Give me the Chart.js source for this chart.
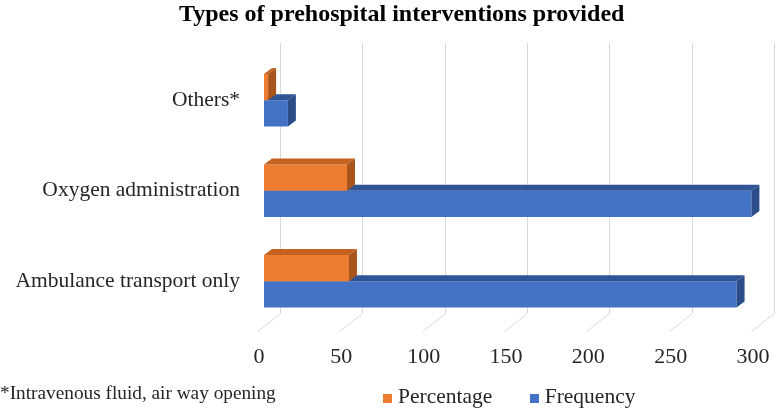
<!DOCTYPE html>
<html>
<head>
<meta charset="utf-8">
<script src="https://cdn.jsdelivr.net/npm/chart.js@4/dist/chart.umd.min.js"></script>
<style>
  html, body { margin: 0; padding: 0; background: #fff; }
  #wrap { position: relative; width: 778px; height: 408px; }
  #title { position: absolute; left: 179px; top: 1px; font: bold 24px "Liberation Serif", serif; line-height: 24px; color: #000; white-space: nowrap; }
  #note { position: absolute; left: 0; top: 382px; font: 19.3px "Liberation Serif", serif; color: #262626; }
  #legend { position: absolute; left: 383px; top: 384px; font: 21.5px "Liberation Serif", serif; color: #262626; white-space: nowrap; }
  #legend span.box { display: inline-block; width: 9px; height: 9px; margin-right: 6px; }
  #legend span.item { margin-right: 32px; }
</style>
</head>
<body>
<div id="wrap">
  <canvas id="barChart" width="778" height="408"></canvas>
  <div id="title">Types of prehospital interventions provided</div>
  <div id="note">*Intravenous fluid, air way opening</div>
  <div id="legend">
    <span class="item"><span class="box" style="background:#ED7D31"></span>Percentage</span>
    <span class="item"><span class="box" style="background:#4472C4"></span>Frequency</span>
  </div>
</div>
<script>
// Data (top to bottom as shown)
const categories = ['Others*', 'Oxygen administration', 'Ambulance transport only'];
const percentage = [2.5, 50.4, 51.6];
const frequency = [14.5, 296, 287];
const xTicks = [0, 50, 100, 150, 200, 250, 300];

// 3D faces colours per dataset
const faceColors = [
  { top: '#C4621F', side: '#A8541B' },  // Percentage
  { top: '#2F5597', side: '#2B4D89' }   // Frequency
];

const DX = 8, DY = 6;  // depth of a bar

// back wall gridlines + floor diagonals, then top/side faces of each bar
const wallPlugin = {
  id: 'wall3d',
  beforeDatasetsDraw(chart) {
    const { ctx, chartArea, scales } = chart;
    ctx.save();
    ctx.strokeStyle = '#d9d9d9';
    ctx.lineWidth = 1;
    xTicks.forEach(v => {
      const px = Math.round(scales.x.getPixelForValue(v)) + 0.5;
      ctx.beginPath();
      ctx.moveTo(px + 16, chartArea.top - 12);
      ctx.lineTo(px + 16, chartArea.bottom - 13);
      ctx.lineTo(px - 7, chartArea.bottom + 5);
      ctx.stroke();
    });
    ctx.restore();
  },
  afterDatasetDraw(chart, args) {
    const { ctx } = chart;
    const c = faceColors[args.index];
    ctx.save();
    args.meta.data.forEach(bar => {
      const left = bar.base, right = bar.x;
      const top = bar.y - bar.height / 2, bottom = bar.y + bar.height / 2;
      ctx.fillStyle = c.top;
      ctx.beginPath();
      ctx.moveTo(left, top);
      ctx.lineTo(left + DX, top - DY);
      ctx.lineTo(right + DX, top - DY);
      ctx.lineTo(right, top);
      ctx.closePath();
      ctx.fill();
      ctx.fillStyle = c.side;
      ctx.beginPath();
      ctx.moveTo(right, top);
      ctx.lineTo(right + DX, top - DY);
      ctx.lineTo(right + DX, bottom - DY);
      ctx.lineTo(right, bottom);
      ctx.closePath();
      ctx.fill();
    });
    ctx.restore();
  }
};

const ctx = document.getElementById('barChart').getContext('2d');
new Chart(ctx, {
  type: 'bar',
  data: {
    labels: categories,
    datasets: [
      {
        label: 'Percentage',
        data: percentage,
        backgroundColor: '#ED7D31',
        borderWidth: 0
      },
      {
        label: 'Frequency',
        data: frequency,
        backgroundColor: '#4472C4',
        borderWidth: 0
      }
    ]
  },
  options: {
    indexAxis: 'y',
    responsive: false,
    animation: false,
    categoryPercentage: 0.58,
    barPercentage: 1.0,
    layout: {
      padding: { left: 14, right: 20, top: 55, bottom: 21 }
    },
    plugins: {
      legend: { display: false },
      tooltip: { enabled: false },
      title: { display: false }
    },
    scales: {
      x: {
        min: 0,
        max: 300,
        grid: { display: false, drawTicks: false },
        border: { display: false },
        afterFit(scale) { scale.paddingRight = 0; scale.paddingLeft = 0; },
        ticks: {
          stepSize: 50,
          padding: 17,
          labelOffset: -5,
          maxRotation: 0,
          color: '#262626',
          font: { family: 'Liberation Serif', size: 22 }
        }
      },
      y: {
        grid: { display: false, drawTicks: false },
        border: { display: false },
        afterFit(scale) { scale.width = 250; },
        ticks: {
          padding: 24,
          color: '#262626',
          font: { family: 'Liberation Serif', size: 21.5 }
        }
      }
    }
  },
  plugins: [wallPlugin]
});
</script>
</body>
</html>
